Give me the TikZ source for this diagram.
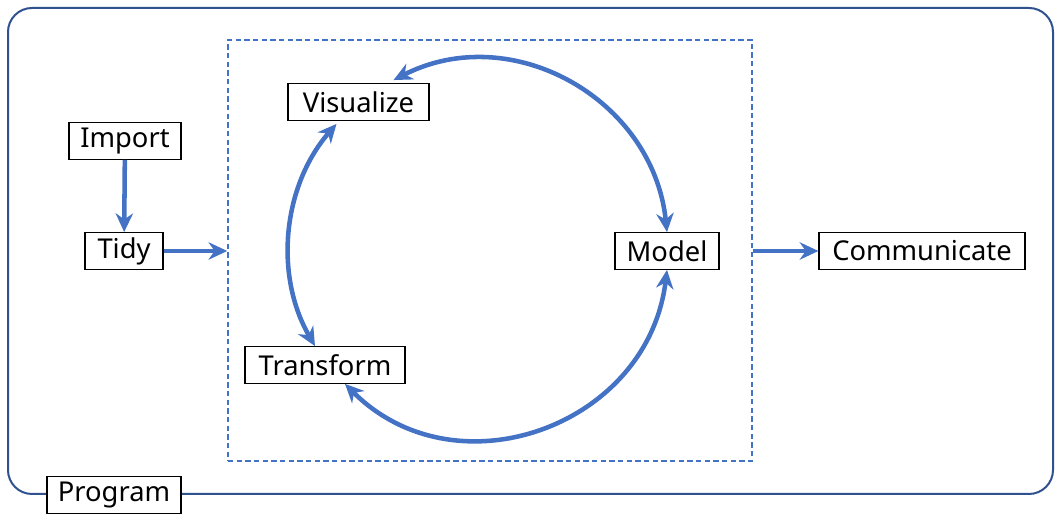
\documentclass[tikz,border=0pt]{standalone}
\usepackage{fontspec}
\setmainfont{Noto Sans}
\usetikzlibrary{arrows.meta,calc}
\definecolor{flowblue}{HTML}{4472C4}
\definecolor{frameblue}{HTML}{2F528F}

\begin{document}
\begin{tikzpicture}[
  x=0.75pt, y=0.75pt,
  font=\fontsize{20.5}{24}\selectfont,
  box/.style={draw, line width=0.9pt, fill=white, minimum height=27.5pt, inner xsep=6pt, inner ysep=0pt},
  arr/.style={-{Stealth[length=14pt, width=13pt, inset=4.5pt]}, line width=3.4pt, flowblue},
  dbl/.style={{Stealth[length=14pt, width=13pt, inset=4.5pt]}-{Stealth[length=14pt, width=13pt, inset=4.5pt]}, line width=3.4pt, flowblue}
]
\useasboundingbox (0,0) rectangle (1061,524);

% frames
\node[draw=frameblue, line width=1.5pt, rounded corners=18pt, minimum width=783.75pt, minimum height=364.5pt] (prog) at (530.5,273) {};
\node[draw=flowblue, line width=1.1pt, dash pattern=on 4pt off 2.5pt, minimum width=393pt, minimum height=315.75pt] (cyc) at (490,273.5) {};

% steps
\node[box, minimum width=84pt] (imp) at (125,383) {Import};
\node[box, minimum width=58.5pt] (tidy) at (124,273) {Tidy};
\node[box, minimum width=105.75pt] (vis) at (358.5,422) {Visualize};
\node[box, minimum width=78pt] (mod) at (667,273) {Model};
\node[box, minimum width=120pt] (trans) at (325,159) {Transform};
\node[box, minimum width=154.5pt] (com) at (922,273) {Communicate};
\node[box, minimum width=100.5pt] (lab) at (114,29) {Program};

\draw[arr] (imp) -- (tidy);
\draw[arr] (tidy.east) -- (tidy.east -| cyc.west);
\draw[arr] (cyc.east |- com) -- (com.west);

% cycle
\draw[dbl] ($(vis.north)+(35,3)$) to[out=27, in=96, looseness=1.09] (mod.north);
\draw[dbl] ($(vis.south)+(-22,-3)$) to[out=229, in=120, looseness=0.94] ($(trans.north)+(-10,0)$);
\draw[dbl] (mod.south) to[out=263, in=315, looseness=1.18] ($(trans.south)+(20,0)$);
\end{tikzpicture}
\end{document}
